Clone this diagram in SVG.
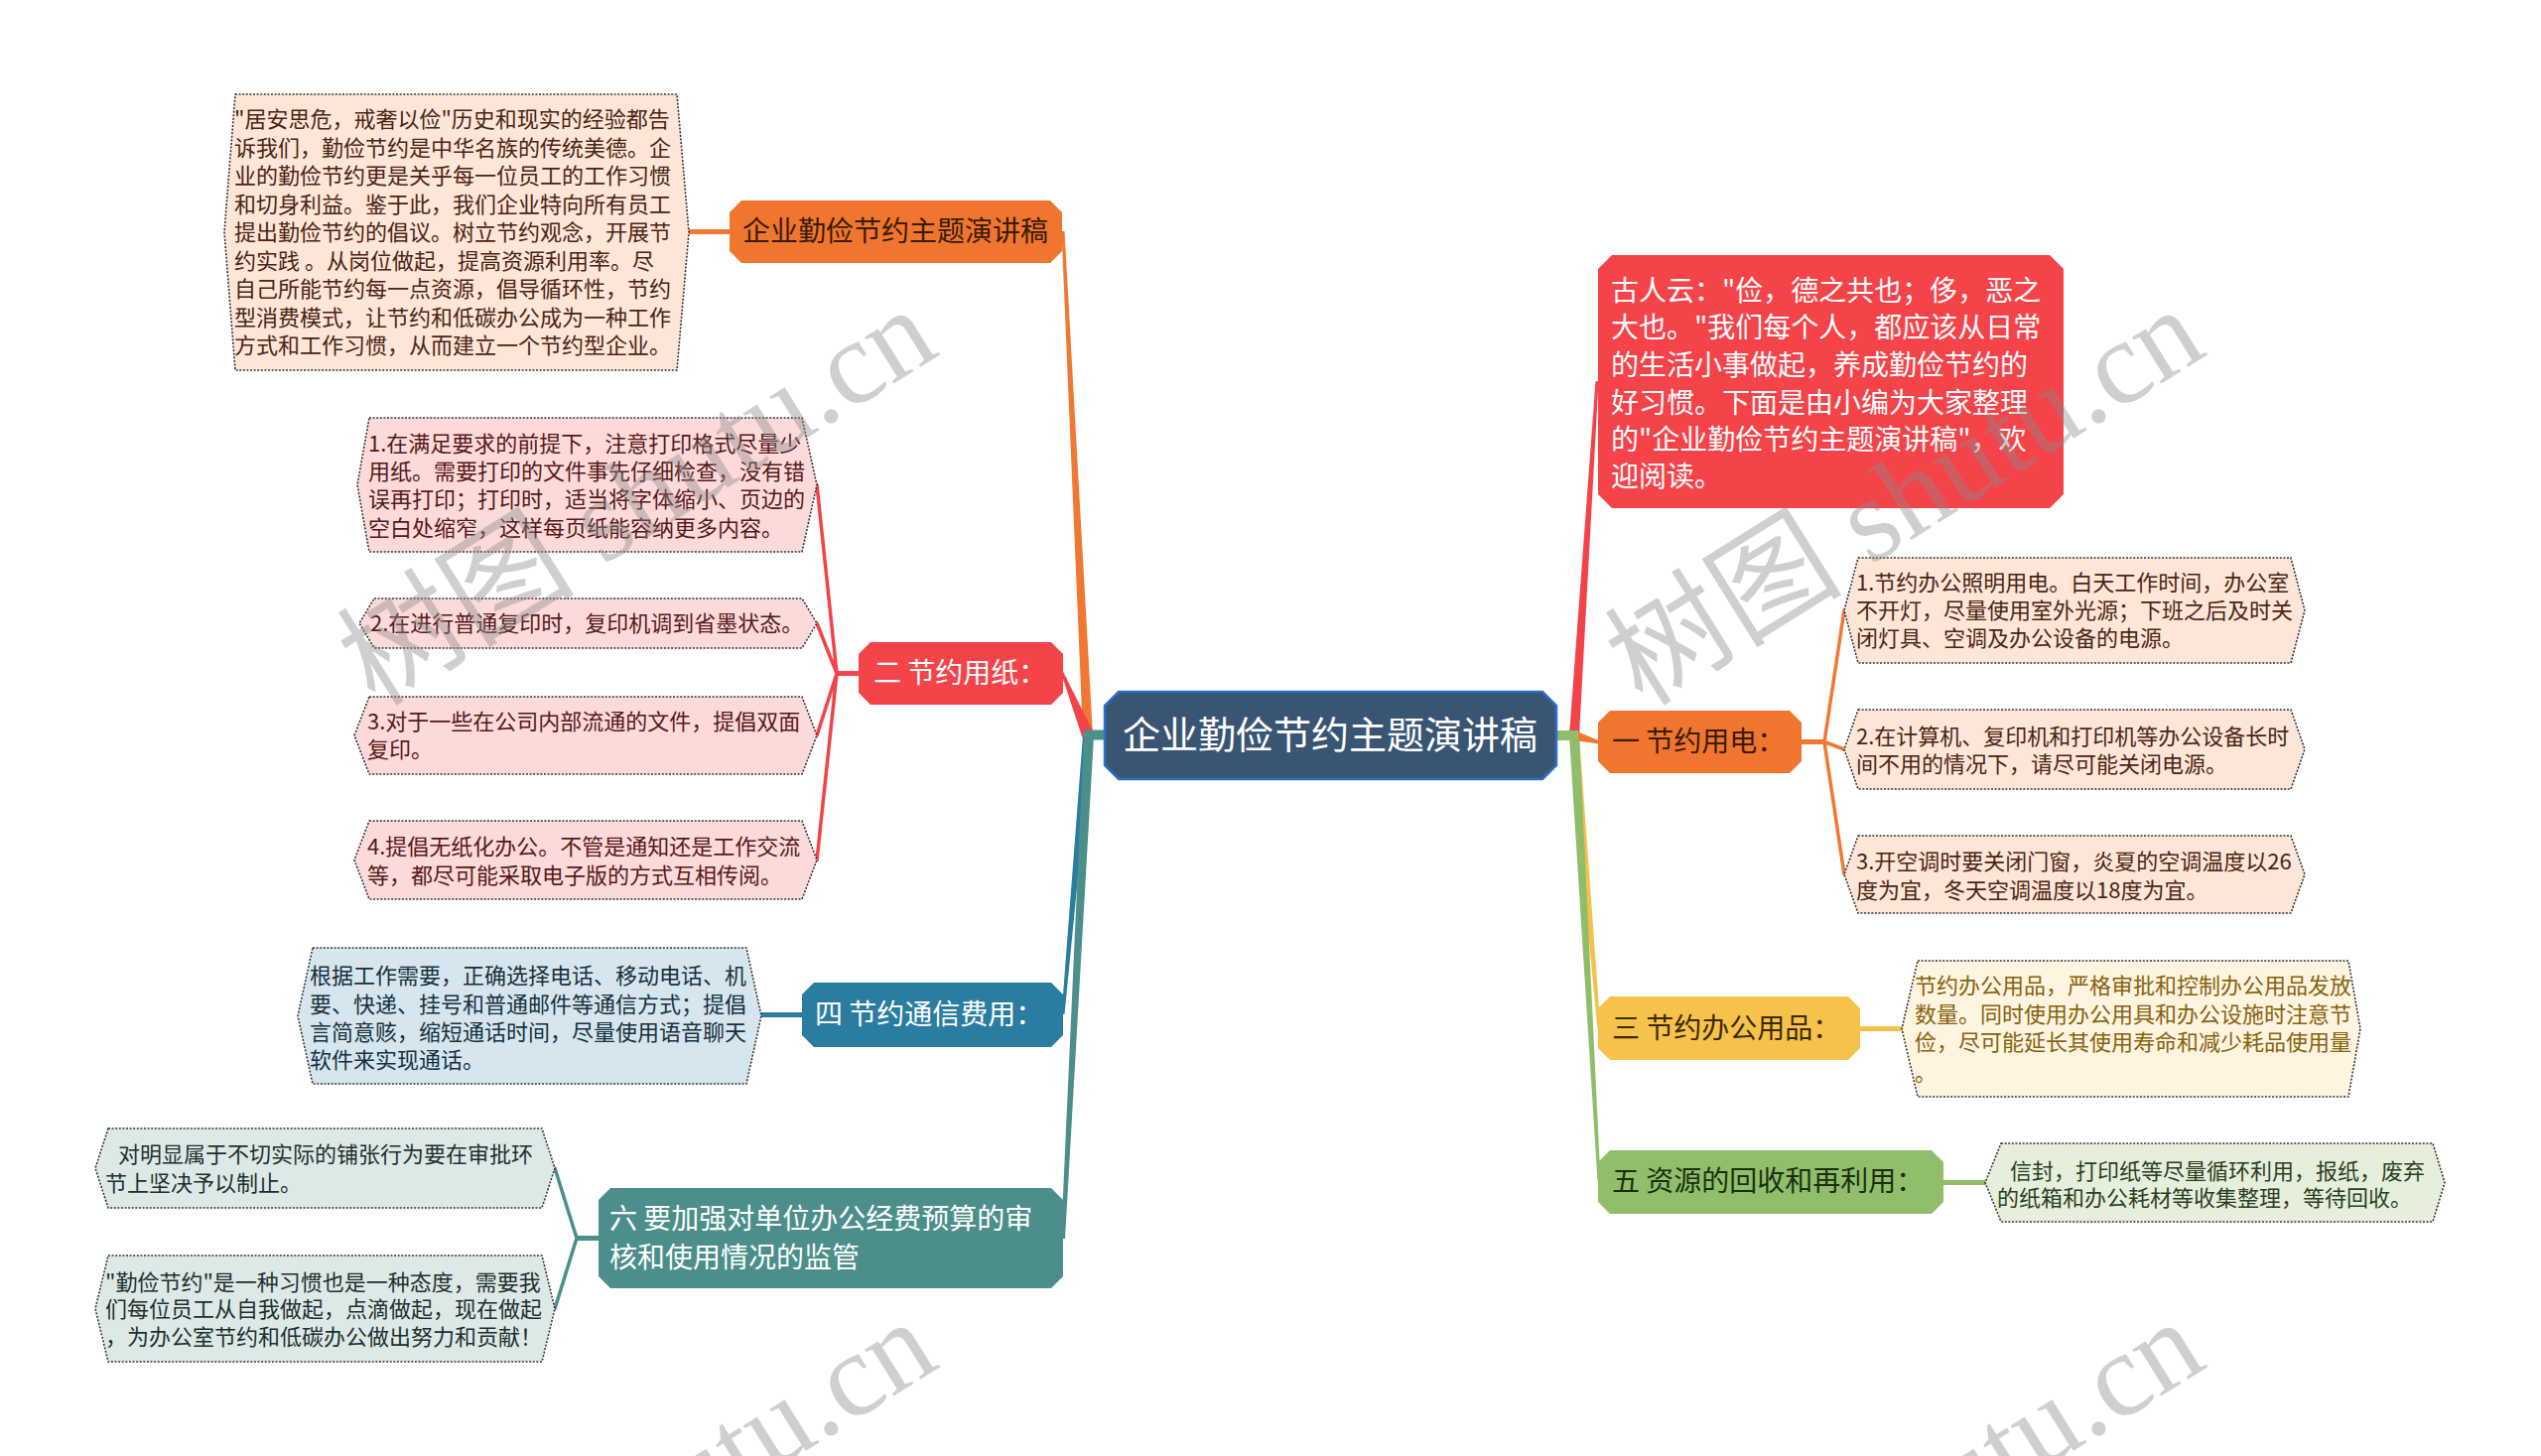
<svg xmlns="http://www.w3.org/2000/svg" width="2560" height="1467" viewBox="0 0 2560 1467">
<style>
text{font-family:"Noto Sans CJK SC","Microsoft YaHei",sans-serif}
.box{stroke:#333;stroke-width:1.6;stroke-dasharray:2 1.6}
.bt{font-size:22px}
.nt{font-size:28px}
.sub{fill:none;stroke-width:3.5;stroke-linecap:round}
.stub{fill:none;stroke-width:5}
.wm{font-family:"Liberation Serif","Noto Sans CJK SC",serif;font-size:120px;fill:#8a8a8a;opacity:0.4}
</style>
<rect width="2560" height="1467" fill="#ffffff"/>

<g id="connectors">
  <path d="M1091,741 L1101,741 L1072.5,233 L1069.5,233 Z" fill="#f07833"/>
  <path d="M1091,741 L1100,741 L1072.5,1022 L1069.5,1022 Z" fill="#2a7ca0"/>
  <path d="M1092,741 L1102,741 L1073,1248 L1069,1248 Z" fill="#4c8f8a"/>
  <path d="M1090.4,743 L1101.6,738 L1071,676.5 L1069,678 Z" fill="#f2434a"/>
  <rect x="1092" y="735.5" width="22" height="10" fill="#4c8f8a"/>
  <path d="M1581,741 L1591,741 L1612.5,1037 L1609.5,1037 Z" fill="#f5c04c"/>
  <path d="M1581,741 L1591,741 L1612.5,1190 L1609.5,1190 Z" fill="#8fbd6a"/>
  <path d="M1581,741 L1591,741 L1610.5,384 L1607.5,384 Z" fill="#f2434a"/>
  <path d="M1587.4,736.2 L1611.4,746.5 L1610.6,749.5 L1584.6,745.8 Z" fill="#f07833"/>
  <rect x="1566" y="736" width="24" height="10" fill="#8fbd6a"/>
  <path class="stub" d="M735,233.5 H693" stroke="#f07833"/>
  <path class="stub" d="M866,678.5 H842" stroke="#f2434a"/>
  <path class="sub" d="M843,678.5 L823,488.5 M843,678.5 L823,628 M843,678.5 L823,741 M843,678.5 L823,866.5" stroke="#f2434a"/>
  <path class="stub" d="M809,1022.5 H766" stroke="#2a7ca0"/>
  <path class="stub" d="M604,1247.5 H580" stroke="#4c8f8a"/>
  <path class="sub" d="M581,1247.5 L559,1177 M581,1247.5 L559,1318.5" stroke="#4c8f8a"/>
  <path class="stub" d="M1814,747.5 H1839" stroke="#f07833"/>
  <path class="sub" d="M1838,747.5 L1858,615 M1838,747.5 L1858,755 M1838,747.5 L1858,881" stroke="#f07833"/>
  <path class="stub" d="M1873,1036.5 H1917" stroke="#f5c04c"/>
  <path class="stub" d="M1957,1191.5 H2001" stroke="#8fbd6a"/>
</g>

<g id="center">
  <path d="M1127,697 H1554 L1568,711 V771 L1554,785 H1127 L1113,771 V711 Z" fill="#395574" stroke="#2d6fc4" stroke-width="2.5"/>
  <text x="1340" y="754" font-size="38" fill="#ffffff" text-anchor="middle">企业勤俭节约主题演讲稿</text>
</g>

<g id="n-top">
  <path d="M747,202 H1058 L1070,214 V253 L1058,265 H747 L735,253 V214 Z" fill="#f07630"/>
  <text class="nt" x="902" y="243" fill="#3b1a06" text-anchor="middle">企业勤俭节约主题演讲稿</text>
</g>
<g id="box-a">
  <path class="box" d="M237,95 H682 L694,234 L682,373 H237 L226,234 Z" fill="#fde5d7"/>
  <text class="bt" fill="#4a2414">
    <tspan x="236" y="128">"居安思危，戒奢以俭"历史和现实的经验都告</tspan>
    <tspan x="236" y="156.5">诉我们，勤俭节约是中华名族的传统美德。企</tspan>
    <tspan x="236" y="185">业的勤俭节约更是关乎每一位员工的工作习惯</tspan>
    <tspan x="236" y="213.5">和切身利益。鉴于此，我们企业特向所有员工</tspan>
    <tspan x="236" y="242">提出勤俭节约的倡议。树立节约观念，开展节</tspan>
    <tspan x="236" y="270.5">约实践 。从岗位做起，提高资源利用率。尽</tspan>
    <tspan x="236" y="299">自己所能节约每一点资源，倡导循环性，节约</tspan>
    <tspan x="236" y="327.5">型消费模式，让节约和低碳办公成为一种工作</tspan>
    <tspan x="236" y="356">方式和工作习惯，从而建立一个节约型企业。</tspan>
  </text>
</g>

<g id="n-paper">
  <path d="M877,647 H1059 L1071,659 V698 L1059,710 H877 L865,698 V659 Z" fill="#f5434a"/>
  <text class="nt" x="880" y="688" fill="#ffffff">二 节约用纸：</text>
</g>
<g id="box-b1">
  <path class="box" d="M372,421 H808 L823,488.5 L808,556 H372 L360,488.5 Z" fill="#fcdada"/>
  <text class="bt" fill="#561818">
    <tspan x="371" y="455">1.在满足要求的前提下，注意打印格式尽量少</tspan>
    <tspan x="371" y="483">用纸。需要打印的文件事先仔细检查，没有错</tspan>
    <tspan x="371" y="511">误再打印；打印时，适当将字体缩小、页边的</tspan>
    <tspan x="371" y="540">空白处缩窄，这样每页纸能容纳更多内容。</tspan>
  </text>
</g>
<g id="box-b2">
  <path class="box" d="M377,603 H808 L823,628 L808,653 H377 L362,628 Z" fill="#fcdada"/>
  <text class="bt" fill="#561818"><tspan x="373" y="636">2.在进行普通复印时，复印机调到省墨状态。</tspan></text>
</g>
<g id="box-b3">
  <path class="box" d="M372,702 H808 L823,741 L808,780 H372 L357,741 Z" fill="#fcdada"/>
  <text class="bt" fill="#561818">
    <tspan x="370" y="735">3.对于一些在公司内部流通的文件，提倡双面</tspan>
    <tspan x="370" y="763">复印。</tspan>
  </text>
</g>
<g id="box-b4">
  <path class="box" d="M372,827 H808 L823,866.5 L808,906 H372 L357,866.5 Z" fill="#fcdada"/>
  <text class="bt" fill="#561818">
    <tspan x="370" y="861">4.提倡无纸化办公。不管是通知还是工作交流</tspan>
    <tspan x="370" y="890">等，都尽可能采取电子版的方式互相传阅。</tspan>
  </text>
</g>

<g id="n-comm">
  <path d="M820,990 H1059 L1071,1002 V1043 L1059,1055 H820 L808,1043 V1002 Z" fill="#2a7ca0"/>
  <text class="nt" x="821" y="1032" fill="#ffffff">四 节约通信费用：</text>
</g>
<g id="box-d">
  <path class="box" d="M315,955 H752 L767,1023.5 L752,1092 H315 L300,1023.5 Z" fill="#d5e6ee"/>
  <text class="bt" fill="#17303d">
    <tspan x="312" y="991">根据工作需要，正确选择电话、移动电话、机</tspan>
    <tspan x="312" y="1020">要、快递、挂号和普通邮件等通信方式；提倡</tspan>
    <tspan x="312" y="1048">言简意赅，缩短通话时间，尽量使用语音聊天</tspan>
    <tspan x="312" y="1076">软件来实现通话。</tspan>
  </text>
</g>

<g id="n-budget">
  <path d="M615,1197 H1059 L1071,1209 V1286 L1059,1298 H615 L603,1286 V1209 Z" fill="#4c8f8a"/>
  <text class="nt" fill="#ffffff">
    <tspan x="614" y="1238">六 要加强对单位办公经费预算的审</tspan>
    <tspan x="614" y="1277">核和使用情况的监管</tspan>
  </text>
</g>
<g id="box-f1">
  <path class="box" d="M109,1137 H546 L559,1177 L546,1217 H109 L96,1177 Z" fill="#dde9e7"/>
  <text class="bt" fill="#1c302e">
    <tspan x="119" y="1171">对明显属于不切实际的铺张行为要在审批环</tspan>
    <tspan x="106" y="1200">节上坚决予以制止。</tspan>
  </text>
</g>
<g id="box-f2">
  <path class="box" d="M109,1265 H546 L559,1318.5 L546,1372 H109 L96,1318.5 Z" fill="#dde9e7"/>
  <text class="bt" fill="#1c302e">
    <tspan x="106" y="1300">"勤俭节约"是一种习惯也是一种态度，需要我</tspan>
    <tspan x="106" y="1327">们每位员工从自我做起，点滴做起，现在做起</tspan>
    <tspan x="106" y="1355">，为办公室节约和低碳办公做出努力和贡献！</tspan>
  </text>
</g>

<g id="n-intro">
  <path d="M1624,257 H2065 L2079,271 V498 L2065,512 H1624 L1610,498 V271 Z" fill="#f5434a"/>
  <text class="nt" fill="#ffffff">
    <tspan x="1623" y="303">古人云："俭，德之共也；侈，恶之</tspan>
    <tspan x="1623" y="340">大也。"我们每个人，都应该从日常</tspan>
    <tspan x="1623" y="378">的生活小事做起，养成勤俭节约的</tspan>
    <tspan x="1623" y="416">好习惯。下面是由小编为大家整理</tspan>
    <tspan x="1623" y="453">的"企业勤俭节约主题演讲稿"，欢</tspan>
    <tspan x="1623" y="490">迎阅读。</tspan>
  </text>
</g>

<g id="n-power">
  <path d="M1622,716 H1803 L1815,728 V767 L1803,779 H1622 L1610,767 V728 Z" fill="#f07630"/>
  <text class="nt" x="1624" y="757" fill="#3b1a06">一 节约用电：</text>
</g>
<g id="box-e1">
  <path class="box" d="M1872,562 H2308 L2322,615 L2308,668 H1872 L1858,615 Z" fill="#fde5d7"/>
  <text class="bt" fill="#4a2414">
    <tspan x="1870" y="595">1.节约办公照明用电。白天工作时间，办公室</tspan>
    <tspan x="1870" y="623">不开灯，尽量使用室外光源；下班之后及时关</tspan>
    <tspan x="1870" y="651">闭灯具、空调及办公设备的电源。</tspan>
  </text>
</g>
<g id="box-e2">
  <path class="box" d="M1872,715 H2308 L2322,755 L2308,795 H1872 L1858,755 Z" fill="#fde5d7"/>
  <text class="bt" fill="#4a2414">
    <tspan x="1870" y="750">2.在计算机、复印机和打印机等办公设备长时</tspan>
    <tspan x="1870" y="778">间不用的情况下，请尽可能关闭电源。</tspan>
  </text>
</g>
<g id="box-e3">
  <path class="box" d="M1872,842 H2308 L2322,881 L2308,920 H1872 L1858,881 Z" fill="#fde5d7"/>
  <text class="bt" fill="#4a2414">
    <tspan x="1870" y="876">3.开空调时要关闭门窗，炎夏的空调温度以26</tspan>
    <tspan x="1870" y="905">度为宜，冬天空调温度以18度为宜。</tspan>
  </text>
</g>

<g id="n-supplies">
  <path d="M1622,1004 H1862 L1874,1016 V1056 L1862,1068 H1622 L1610,1056 V1016 Z" fill="#f7c24b"/>
  <text class="nt" x="1624" y="1046" fill="#3a2a00">三 节约办公用品：</text>
</g>
<g id="box-c">
  <path class="box" d="M1932,968 H2366 L2378,1036.5 L2366,1105 H1932 L1916,1036.5 Z" fill="#fef4df"/>
  <text class="bt" fill="#86620e">
    <tspan x="1929" y="1001">节约办公用品，严格审批和控制办公用品发放</tspan>
    <tspan x="1929" y="1030">数量。同时使用办公用具和办公设施时注意节</tspan>
    <tspan x="1929" y="1058">俭，尽可能延长其使用寿命和减少耗品使用量</tspan>
    <tspan x="1929" y="1089">。</tspan>
  </text>
</g>

<g id="n-recycle">
  <path d="M1622,1159 H1946 L1958,1171 V1211 L1946,1223 H1622 L1610,1211 V1171 Z" fill="#91be6b"/>
  <text class="nt" x="1624" y="1200" fill="#1c2e10">五 资源的回收和再利用：</text>
</g>
<g id="box-g">
  <path class="box" d="M2016,1152 H2451 L2463,1191.5 L2451,1231 H2016 L2000,1191.5 Z" fill="#e5efdc"/>
  <text class="bt" fill="#2a3f1c">
    <tspan x="2025" y="1188">信封，打印纸等尽量循环利用，报纸，废弃</tspan>
    <tspan x="2012" y="1215">的纸箱和办公耗材等收集整理，等待回收。</tspan>
  </text>
</g>

<g id="watermarks">
  <text class="wm" transform="translate(378,713) rotate(-32)">树图 shutu.cn</text>
  <text class="wm" transform="translate(1655,713) rotate(-32)">树图 shutu.cn</text>
  <text class="wm" transform="translate(378,1733) rotate(-32)">树图 shutu.cn</text>
  <text class="wm" transform="translate(1655,1733) rotate(-32)">树图 shutu.cn</text>
</g>
</svg>
